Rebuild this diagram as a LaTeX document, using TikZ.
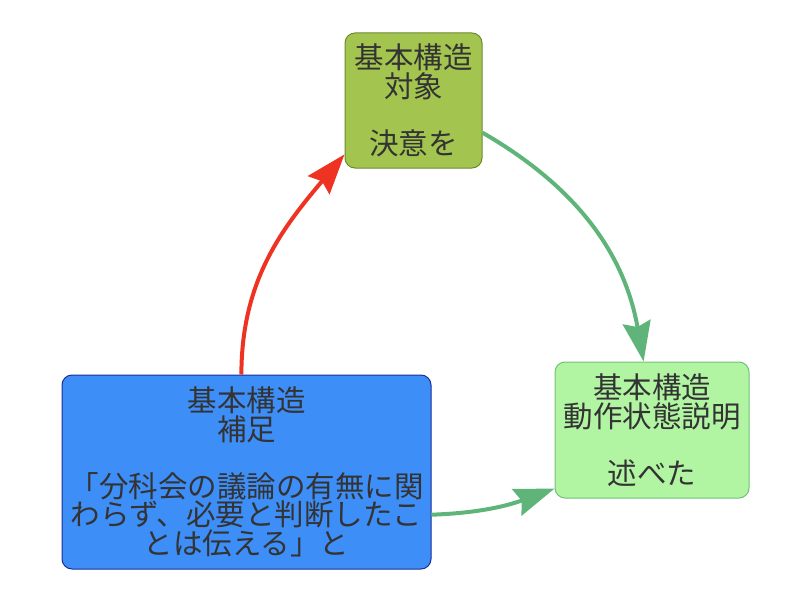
\documentclass[tikz,border=0pt]{standalone}
\usepackage{fontspec}
\newfontfamily\cjk{Noto Sans CJK JP}
\usepackage{xcolor}
\usetikzlibrary{arrows.meta}

\definecolor{topfill}{HTML}{A3C550}
\definecolor{topline}{HTML}{6B8A2E}
\definecolor{rightfill}{HTML}{B1F5A3}
\definecolor{rightline}{HTML}{72C078}
\definecolor{bluefill}{HTML}{3E8EF7}
\definecolor{blueline}{HTML}{1B2E9A}
\definecolor{redarrow}{HTML}{EE3322}
\definecolor{greenarrow}{HTML}{5FB579}
\definecolor{textgray}{HTML}{333333}

\newcommand{\blockfont}{\cjk\fontsize{29.5}{28.5}\selectfont\lineskiplimit=-100pt\relax}

\begin{document}
\begin{tikzpicture}[
    x=1pt, y=-1pt,
    block/.style={rectangle, draw, rounded corners=10pt, line width=1pt, align=center,
        inner sep=0pt, text=textgray, font=\blockfont},
    arrow/.style={-{Stealth[length=40pt, width=28pt, inset=5pt]}, line width=4pt}
]
    \useasboundingbox (0,0) rectangle (800,599);

    % Top node
    \node[block, fill=topfill, draw=topline, minimum width=137pt, minimum height=135pt]
        (object) at (413.5,100.5) {基本構造\\対象\\[28.5pt]決意を};

    % Right node
    \node[block, fill=rightfill, draw=rightline, minimum width=194pt, minimum height=136pt]
        (state) at (652,430) {基本構造\\動作状態説明\\[28.5pt]述べた};

    % Left node
    \node[block, fill=bluefill, draw=blueline, minimum width=369pt, minimum height=194pt]
        (supplement) at (246.5,472) {基本構造\\補足\\[28.5pt]「分科会の議論の有無に関\\わらず、必要と判断したこ\\とは伝える」と};

    % Arrows
    \draw[arrow, redarrow] (supplement.93) to[out=90, in=-130] (object.218);
    \draw[arrow, greenarrow] (object.-25) to[out=-30, in=100] (state.97);
    \draw[arrow, greenarrow] (supplement.-13.7) to[out=2, in=200] (state.211.7);

\end{tikzpicture}
\end{document}
